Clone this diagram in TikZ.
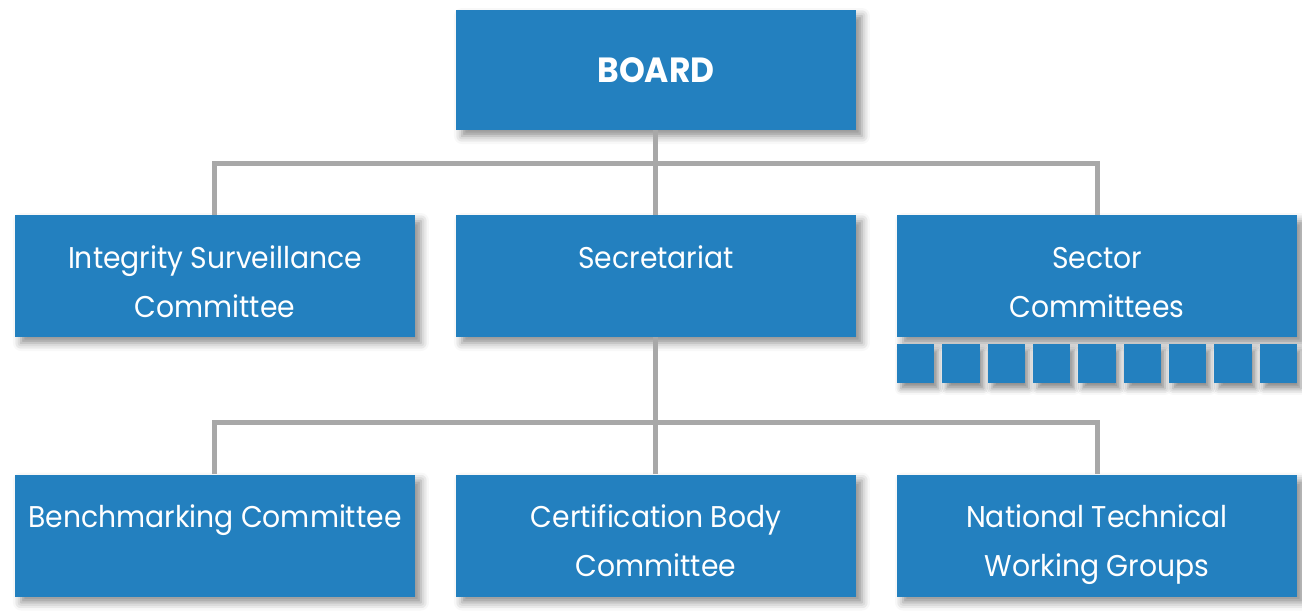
\documentclass[tikz,border=0pt]{standalone}
\usepackage{fontspec}
\setmainfont[FakeStretch=0.94]{Poppins}
\usepackage{xcolor}
\usepackage{tikz}
\usetikzlibrary{shadows.blur}
\definecolor{orgblue}{RGB}{35,128,191}
\definecolor{linegray}{RGB}{168,168,168}

\begin{document}
\begin{tikzpicture}[
  box/.style={rectangle, fill=orgblue, text=white, minimum width=200pt, minimum height=61pt, inner sep=0pt, align=center,
    font=\fontsize{15}{24.5}\selectfont,
    blur shadow={shadow xshift=3pt, shadow yshift=-3pt, shadow blur radius=4pt, shadow opacity=45}},
  twoline/.style={box, execute at begin node={\rule{0pt}{46pt}}, execute at end node={\rule[-5pt]{0pt}{5pt}}},
  tile/.style={rectangle, fill=orgblue, minimum width=18.67pt, minimum height=19.5pt, inner sep=0pt, anchor=north west,
    blur shadow={shadow xshift=2pt, shadow yshift=-3pt, shadow blur radius=3pt, shadow opacity=45}},
  edge from parent/.style={draw=linegray, line width=2.5pt},
  level 1/.style={sibling distance=220.5pt, level distance=103pt,
    edge from parent path={(\tikzparentnode.south) -- ++(0,-16.5pt) -| (\tikzchildnode.north)}},
  level 2/.style={sibling distance=220.5pt, level distance=129.75pt,
    edge from parent path={(\tikzparentnode.south) -- ++(0,-42.5pt) -| (\tikzchildnode.north)}}]
\useasboundingbox (-328pt,35pt) rectangle (323pt,-271pt);
\node [box, minimum height=60pt, font=\fontsize{17.5}{20}\selectfont\bfseries] (brd) {BOARD}
  child {node [twoline] (isc) {Integrity Surveillance\\Committee}}
  child {node [twoline] (sec) {Secretariat\\\mbox{}}
    child {node [twoline] (bmc) {Benchmarking Committee\\\mbox{}}}
    child {node [twoline] (cbc) {Certification Body\\Committee}}
    child {node [twoline] (ntw) {National Technical\\Working Groups}}
  }
  child {node [twoline] (sct) {Sector\\Committees}};
\foreach \i in {0,...,8}
  \node [tile] (sq\i) at ([xshift=\i*22.67pt, yshift=-3pt]sct.south west) {};
\end{tikzpicture}
\end{document}
